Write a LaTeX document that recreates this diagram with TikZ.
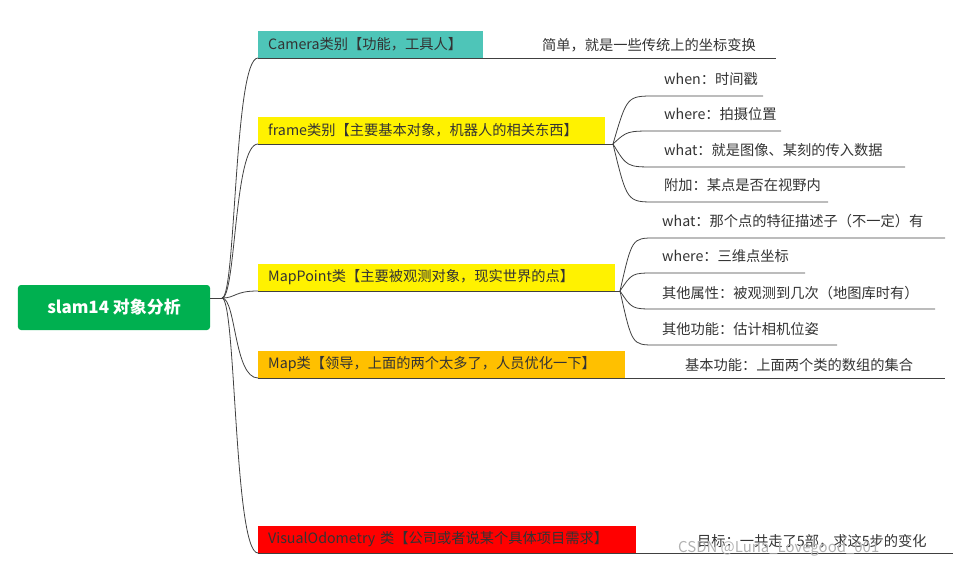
\documentclass[tikz,border=0pt]{standalone}
\usepackage{fontspec}
\setmainfont{Noto Sans CJK SC}
\begin{document}
\begin{tikzpicture}[x=1bp,y=-1bp,
  lab/.style={font=\fontsize{14.3}{16}\selectfont, text=black!80, inner sep=0pt, anchor=base west},
  cls/.style={font=\fontsize{14.3}{16}\selectfont, text=black!80, anchor=south west, minimum height=27bp, inner xsep=10bp, inner ysep=0pt, align=left},
  ln/.style={draw=black!75, line width=0.8pt}]
\useasboundingbox (0,0) rectangle (953,566);
\node[fill={rgb,255:red,0;green,176;blue,80}, rounded corners=3pt, minimum width=192bp, minimum height=45bp, text=white, font=\fontsize{17}{19}\selectfont\bfseries] (root) at (114,307.5) {slam14 对象分析};
\coordinate (hub) at (222,298);
\draw[ln] (root.east |- hub) -- (hub);
% classes
\node[cls, fill={rgb,255:red,78;green,197;blue,184}, text width=205bp] (cam) at (258,58) {Camera类别【功能，工具人】};
\node[cls, fill=yellow, text width=327bp] (frm) at (258,144) {frame类别【主要基本对象，机器人的相关东西】};
\node[cls, fill=yellow, text width=337bp] (mp) at (258,291) {MapPoint类【主要被观测对象，现实世界的点】};
\node[cls, fill={rgb,255:red,255;green,192;blue,0}, text width=347bp] (map) at (258,378) {Map类【领导，上面的两个太多了，人员优化一下】};
\node[cls, fill=red, text width=358bp] (vo) at (258,553) {VisualOdometry 类【公司或者说某个具体项目需求】};
\foreach \n in {cam,frm,mp,map,vo}{
  \draw[ln] (hub) .. controls (hub -| 236,0) and (\n.south west -| 234,0) .. (\n.south west);
}
% underlines
\coordinate (camE) at (776,58);
\coordinate (frmE) at (613,144);
\coordinate (mpE) at (620,291);
\coordinate (mapE) at (945,378);
\coordinate (voE) at (953,553);
\draw[ln] (cam.south west) -- (camE);
\draw[ln] (frm.south west) -- (frmE);
\draw[ln] (mp.south west) -- (mpE);
\draw[ln] (map.south west) -- (mapE);
\draw[ln] (vo.south west) -- (voE);
\node[lab] (camT) at (542,51) {简单，就是一些传统上的坐标变换};
\node[lab] (mapT) at (685,370) {基本功能：上面两个类的数组的集合};
\node[lab] (voT) at (697,546) {目标：一共走了5部，求这5步的变化};
\node[lab, text=black!30, font=\fontsize{15}{16}\selectfont] (wm) at (678,552) {CSDN @Luna\_Lovegood\_001};
% frame children
\foreach \nm/\y/\e/\t in {f1/96/763/{when：时间戳}, f2/131/781/{where：拍摄位置}, f3/167/905/{what：就是图像、某刻的传入数据}, f4/202/828/{附加：某点是否在视野内}}{
  \coordinate (\nm s) at (655,\y);
  \coordinate (\nm e) at (\e,\y);
  \draw[ln] (frmE) .. controls (627,\y) .. (\nm s) -- (\nm e);
  \node[lab] (\nm) at (664,\y-11) {\t};
}
\foreach \nm/\y/\e/\t in {m1/238/945/{what：那个点的特征描述子（不一定）有}, m2/273/805/{where：三维点坐标}, m3/309/935/{其他属性：被观测到几次（地图库时有）}, m4/345/837/{其他功能：估计相机位姿}}{
  \coordinate (\nm s) at (655,\y);
  \coordinate (\nm e) at (\e,\y);
  \draw[ln] (mpE) .. controls (632,\y) .. (\nm s) -- (\nm e);
  \node[lab] (\nm) at (662,\y-11) {\t};
}
\end{tikzpicture}
\end{document}
